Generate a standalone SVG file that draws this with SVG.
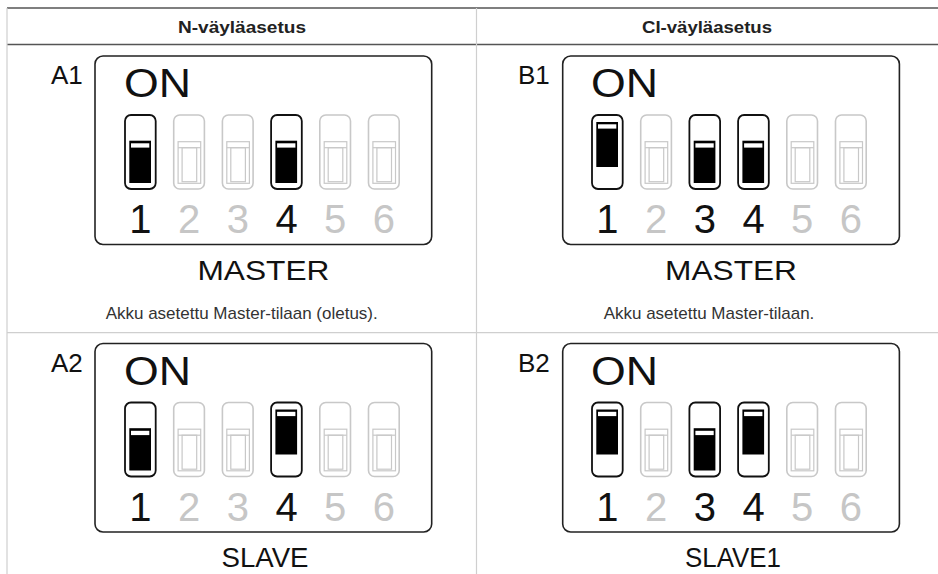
<svg xmlns="http://www.w3.org/2000/svg" xmlns:xlink="http://www.w3.org/1999/xlink" width="938" height="574" viewBox="0 0 938 574">
  <style>
    .hdr { font-family: "Liberation Sans", Arial, sans-serif; font-weight: bold; font-size: 17px; fill: #222; text-anchor: middle; }
    .cap { font-family: "Liberation Sans", Arial, sans-serif; font-size: 17px; fill: #333; text-anchor: middle; }
    .lbl { font-family: "Liberation Sans", Arial, sans-serif; font-size: 26px; fill: #111; }
    .on { font-family: "Liberation Sans", Arial, sans-serif; font-size: 40px; fill: #111; }
    .dig { font-family: "Liberation Sans", Arial, sans-serif; font-size: 40px; text-anchor: middle; }
    .dk { fill: #111; }
    .lt { fill: #c6c6c6; }
    .mode { font-family: "Liberation Sans", Arial, sans-serif; font-size: 28px; fill: #111; text-anchor: middle; }
    .box { fill: none; stroke: #222; stroke-width: 1.6; }
    .body { fill: #fff; stroke: #111; stroke-width: 1.8; }
    .gbody { fill: #fff; stroke: #c8c8c8; stroke-width: 1.6; }
    .gin { fill: none; stroke: #c8c8c8; stroke-width: 1.2; }
    .dark { stroke: #555; stroke-width: 1.5; }
    .light { stroke: #cfcfcf; stroke-width: 1.2; }
  </style>
  <defs>
    <g id="sw-on">
      <rect class="body" x="0" y="0" width="30.7" height="74" rx="6"/>
      <rect x="4.3" y="7" width="21.7" height="45" fill="#000"/>
      <rect x="6" y="9.3" width="18.3" height="4.3" fill="#fff"/>
    </g>
    <g id="sw-off">
      <rect class="body" x="0" y="0" width="30.7" height="74" rx="6"/>
      <rect x="4.3" y="25.7" width="21.7" height="42.3" fill="#000"/>
      <rect x="6" y="28.3" width="18.3" height="4.3" fill="#fff"/>
    </g>
    <g id="sw-gray">
      <rect class="gbody" x="0" y="0" width="30.7" height="74" rx="6"/>
      <rect class="gin" x="4.4" y="26.7" width="22.6" height="41.6"/>
      <line class="gin" x1="4.4" y1="32.7" x2="27" y2="32.7"/>
      <rect class="gin" x="8.4" y="32.7" width="14.6" height="34"/>
    </g>
  </defs>

  <g id="table">
    <line class="dark" x1="7" y1="8" x2="938" y2="8"/>
    <line class="dark" x1="7" y1="44.5" x2="938" y2="44.5"/>
    <line class="light" x1="7" y1="8" x2="7" y2="574"/>
    <line class="light" x1="476.5" y1="8" x2="476.5" y2="574"/>
    <line class="light" x1="7" y1="332.7" x2="938" y2="332.7"/>
    <text class="hdr" x="242" y="33" textLength="128" lengthAdjust="spacingAndGlyphs">N-väyläasetus</text>
    <text class="hdr" x="707" y="33" textLength="130" lengthAdjust="spacingAndGlyphs">CI-väyläasetus</text>
  </g>

  <g id="A1">
    <text class="lbl" x="51" y="84">A1</text>
    <rect class="box" x="95" y="56" width="336.7" height="188.5" rx="8"/>
    <text class="on" x="124" y="97" textLength="67" lengthAdjust="spacingAndGlyphs">ON</text>
    <use xlink:href="#sw-off" x="125" y="115"/>
    <use xlink:href="#sw-gray" x="173.7" y="115"/>
    <use xlink:href="#sw-gray" x="222.4" y="115"/>
    <use xlink:href="#sw-off" x="271.1" y="115"/>
    <use xlink:href="#sw-gray" x="319.8" y="115"/>
    <use xlink:href="#sw-gray" x="368.5" y="115"/>
    <text class="dig dk" x="140.4" y="233">1</text>
    <text class="dig lt" x="189.1" y="233">2</text>
    <text class="dig lt" x="237.8" y="233">3</text>
    <text class="dig dk" x="286.5" y="233">4</text>
    <text class="dig lt" x="335.2" y="233">5</text>
    <text class="dig lt" x="383.9" y="233">6</text>
    <text class="mode" x="263.4" y="279.5" textLength="132" lengthAdjust="spacingAndGlyphs">MASTER</text>
    <text class="cap" x="241.7" y="318.5">Akku asetettu Master-tilaan (oletus).</text>
  </g>

  <g id="B1" transform="translate(467,0)">
    <text class="lbl" x="51" y="84">B1</text>
    <rect class="box" x="95.7" y="56" width="336.7" height="188.5" rx="8"/>
    <text class="on" x="124" y="97" textLength="67" lengthAdjust="spacingAndGlyphs">ON</text>
    <use xlink:href="#sw-on" x="125" y="115"/>
    <use xlink:href="#sw-gray" x="173.7" y="115"/>
    <use xlink:href="#sw-off" x="222.4" y="115"/>
    <use xlink:href="#sw-off" x="271.1" y="115"/>
    <use xlink:href="#sw-gray" x="319.8" y="115"/>
    <use xlink:href="#sw-gray" x="368.5" y="115"/>
    <text class="dig dk" x="140.4" y="233">1</text>
    <text class="dig lt" x="189.1" y="233">2</text>
    <text class="dig dk" x="237.8" y="233">3</text>
    <text class="dig dk" x="286.5" y="233">4</text>
    <text class="dig lt" x="335.2" y="233">5</text>
    <text class="dig lt" x="383.9" y="233">6</text>
    <text class="mode" x="264" y="279.5" textLength="132" lengthAdjust="spacingAndGlyphs">MASTER</text>
    <text class="cap" x="242" y="318.5">Akku asetettu Master-tilaan.</text>
  </g>

  <g id="A2" transform="translate(0,287.5)">
    <text class="lbl" x="51" y="84">A2</text>
    <rect class="box" x="95" y="56" width="336.7" height="188.5" rx="8"/>
    <text class="on" x="124" y="97" textLength="67" lengthAdjust="spacingAndGlyphs">ON</text>
    <use xlink:href="#sw-off" x="125" y="115"/>
    <use xlink:href="#sw-gray" x="173.7" y="115"/>
    <use xlink:href="#sw-gray" x="222.4" y="115"/>
    <use xlink:href="#sw-on" x="271.1" y="115"/>
    <use xlink:href="#sw-gray" x="319.8" y="115"/>
    <use xlink:href="#sw-gray" x="368.5" y="115"/>
    <text class="dig dk" x="140.4" y="233">1</text>
    <text class="dig lt" x="189.1" y="233">2</text>
    <text class="dig lt" x="237.8" y="233">3</text>
    <text class="dig dk" x="286.5" y="233">4</text>
    <text class="dig lt" x="335.2" y="233">5</text>
    <text class="dig lt" x="383.9" y="233">6</text>
    <text class="mode" x="265" y="279.5" textLength="87" lengthAdjust="spacingAndGlyphs">SLAVE</text>
  </g>

  <g id="B2" transform="translate(467,287.5)">
    <text class="lbl" x="51" y="84">B2</text>
    <rect class="box" x="95.7" y="56" width="336.7" height="188.5" rx="8"/>
    <text class="on" x="124" y="97" textLength="67" lengthAdjust="spacingAndGlyphs">ON</text>
    <use xlink:href="#sw-on" x="125" y="115"/>
    <use xlink:href="#sw-gray" x="173.7" y="115"/>
    <use xlink:href="#sw-off" x="222.4" y="115"/>
    <use xlink:href="#sw-on" x="271.1" y="115"/>
    <use xlink:href="#sw-gray" x="319.8" y="115"/>
    <use xlink:href="#sw-gray" x="368.5" y="115"/>
    <text class="dig dk" x="140.4" y="233">1</text>
    <text class="dig lt" x="189.1" y="233">2</text>
    <text class="dig dk" x="237.8" y="233">3</text>
    <text class="dig dk" x="286.5" y="233">4</text>
    <text class="dig lt" x="335.2" y="233">5</text>
    <text class="dig lt" x="383.9" y="233">6</text>
    <text class="mode" x="266" y="279.5" textLength="96" lengthAdjust="spacingAndGlyphs">SLAVE1</text>
  </g>
</svg>
